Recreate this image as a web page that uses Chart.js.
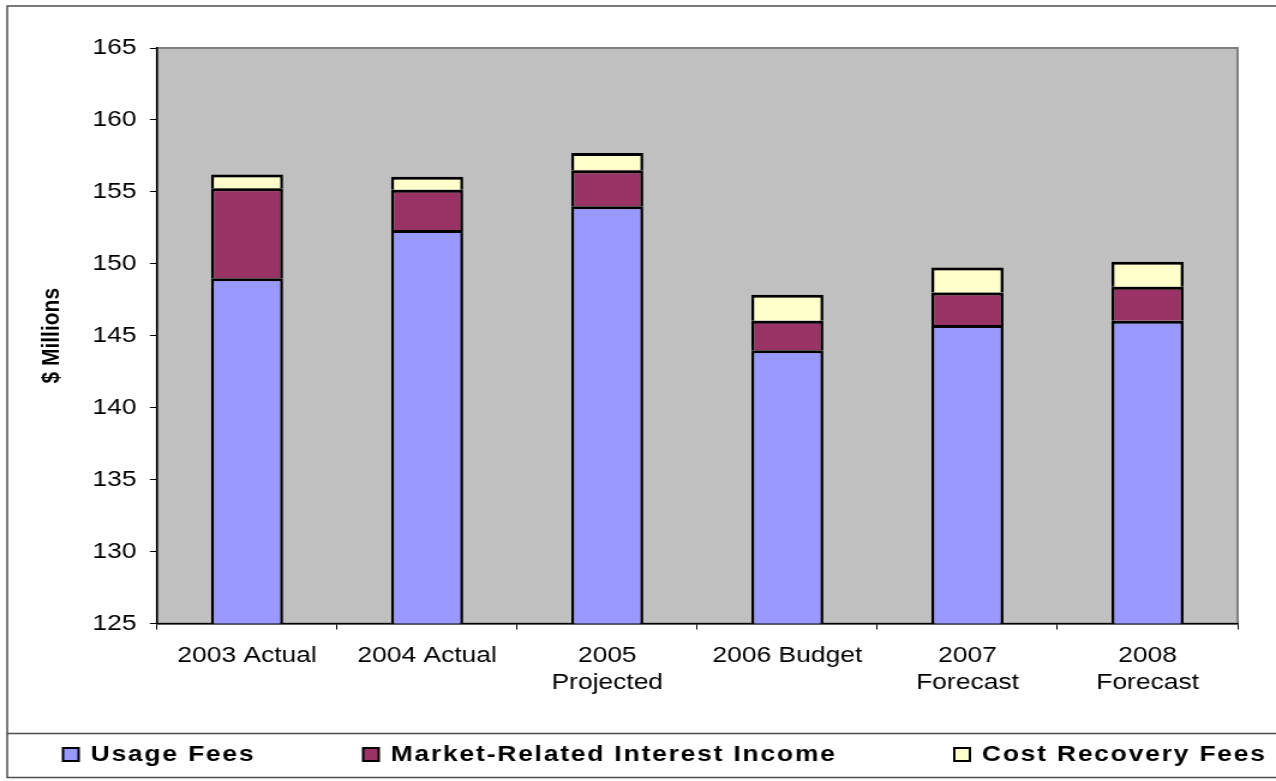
<!DOCTYPE html>
<html>
  <head>
    <script src="https://cdn.jsdelivr.net/npm/chart.js@4/dist/chart.umd.js"></script>
    <style>
      body { margin: 0; background: #fff; }
    </style>
  </head>

  <body>
    <!-- drawn narrow and widened by css, like the old spreadsheet export -->
    <canvas id="graph" width="1063" height="781" style="display:block;width:1276px;height:781px"></canvas>
    <script>
      const categories = ['2003 Actual', '2004 Actual', ['2005', 'Projected'], '2006 Budget', ['2007', 'Forecast'], ['2008', 'Forecast']];
      const usageFees = [149.0, 152.35, 154.0, 144.0, 145.75, 146.05];
      const marketInterest = [6.25, 2.8, 2.5, 2.05, 2.25, 2.35];
      const costRecovery = [0.95, 0.9, 1.2, 1.8, 1.75, 1.75];
      const seriesNames = ['Usage Fees', 'Market-Related Interest Income', 'Cost Recovery Fees'];
      const seriesColors = ['#9999ff', '#993366', '#ffffcc'];
      const yMin = 125;
      const yMax = 165;
      const yStep = 5;

      const FONT = '"Liberation Sans", Arial, sans-serif';

      // grey plot area, outer frame and the boxed legend row
      const framePlugin = {
        id: 'frame',
        beforeDraw(chart) {
          const { ctx, chartArea: a } = chart;
          ctx.save();
          ctx.fillStyle = '#c0c0c0';
          ctx.fillRect(a.left, a.top, a.right - a.left, a.bottom - a.top);
          ctx.strokeStyle = '#808080';
          ctx.lineWidth = 2;
          ctx.strokeRect(a.left, a.top, a.right - a.left, a.bottom - a.top);
          ctx.restore();
          ctx.letterSpacing = '0px';
        },
        afterDatasetsDraw(chart) {
          chart.ctx.letterSpacing = '1px';
        },
        afterDraw(chart) {
          const ctx = chart.ctx;
          const w = chart.width;
          ctx.save();
          ctx.strokeStyle = '#4d4d4d';
          ctx.lineWidth = 1.5;
          ctx.beginPath();
          ctx.moveTo(w, 6);
          ctx.lineTo(6, 6);
          ctx.lineTo(6, 777.5);
          ctx.lineTo(w, 777.5);
          ctx.moveTo(6, 733.5);
          ctx.lineTo(w, 733.5);
          ctx.stroke();

          const itemX = [52.5, 302.5, 795];
          ctx.letterSpacing = '1.5px';
          ctx.font = 'bold 22px ' + FONT;
          ctx.textBaseline = 'middle';
          ctx.textAlign = 'left';
          chart.data.datasets.forEach((ds, i) => {
            const x = itemX[i];
            ctx.fillStyle = ds.backgroundColor;
            ctx.fillRect(x, 748, 13, 13);
            ctx.strokeStyle = '#000';
            ctx.lineWidth = 2;
            ctx.strokeRect(x, 748, 13, 13);
            ctx.fillStyle = '#000';
            ctx.fillText(ds.label, x + 23, 755);
          });
          ctx.restore();
        },
      };

      const barStyle = {
        borderColor: '#000',
        borderWidth: { top: 3, left: 2.5, right: 2.5, bottom: 0 },
        borderSkipped: false,
        categoryPercentage: 1,
        barPercentage: 0.4,
      };

      new Chart(document.getElementById('graph').getContext('2d'), {
        type: 'bar',
        plugins: [framePlugin],
        data: {
          labels: categories,
          datasets: [
            { label: seriesNames[0], data: usageFees, backgroundColor: seriesColors[0], ...barStyle },
            { label: seriesNames[1], data: marketInterest, backgroundColor: seriesColors[1], ...barStyle },
            { label: seriesNames[2], data: costRecovery, backgroundColor: seriesColors[2], ...barStyle },
          ],
        },
        options: {
          responsive: false,
          animation: false,
          devicePixelRatio: 1,
          layout: { padding: { top: 48, right: 32, bottom: 57.5, left: 0 } },
          plugins: {
            legend: { display: false },
            tooltip: { enabled: false },
          },
          scales: {
            x: {
              stacked: true,
              z: 1,
              grid: { drawOnChartArea: false, offset: true, tickLength: 6, color: '#000', lineWidth: 1 },
              border: { color: '#000', width: 1.5 },
              ticks: {
                color: '#000',
                font: { family: FONT, size: 22, lineHeight: 1.23 },
                padding: 12.5,
                maxRotation: 0,
                autoSkip: false,
              },
              afterFit(s) { s.height = 100; },
            },
            y: {
              stacked: true,
              min: yMin,
              max: yMax,
              grid: { drawOnChartArea: false, tickLength: 6, color: '#000', lineWidth: 1 },
              border: { color: '#000', width: 1.5 },
              ticks: {
                stepSize: yStep,
                color: '#000',
                font: { family: FONT, size: 22 },
                padding: 11,
              },
              title: {
                display: true,
                text: '$ Millions',
                color: '#000',
                font: { family: FONT, size: 21, weight: 'bold', lineHeight: 1.2 },
                padding: { top: 31, bottom: 0 },
              },
              afterFit(s) { s.width = 130.8; },
            },
          },
        },
      });
    </script>
  </body>
</html>
